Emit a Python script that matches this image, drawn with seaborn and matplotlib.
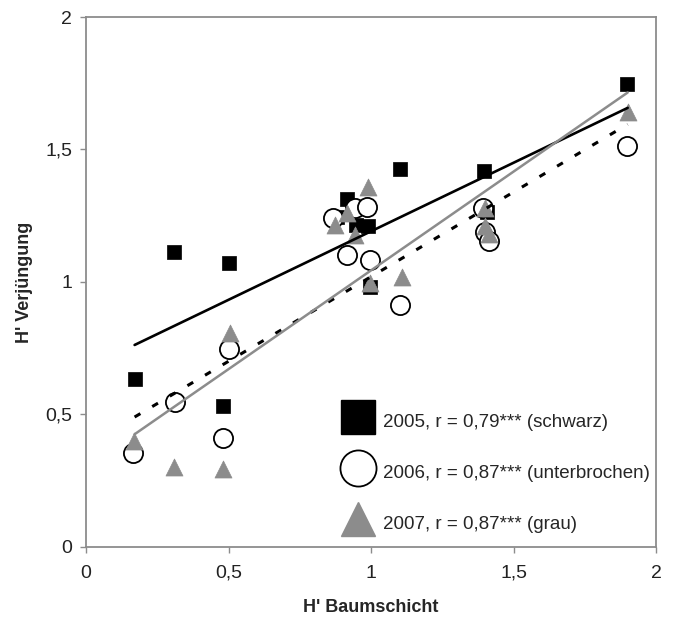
import matplotlib
matplotlib.use("Agg")
import matplotlib.pyplot as plt
import seaborn as sns
import pandas as pd
from matplotlib.lines import Line2D
from matplotlib.ticker import FuncFormatter

# ---- data ----
x_2005 = [0.17, 0.31, 0.48, 0.50, 0.88, 0.915, 0.947, 0.99, 0.996, 1.10, 1.396, 1.406, 1.897]
y_2005 = [0.634, 1.113, 0.532, 1.072, 1.245, 1.313, 1.215, 1.21, 0.981, 1.426, 1.419, 1.264, 1.747]

x_2006 = [0.165, 0.312, 0.48, 0.50, 0.866, 0.915, 0.943, 0.985, 0.996, 1.10, 1.393, 1.40, 1.415, 1.897]
y_2006 = [0.355, 0.547, 0.411, 0.747, 1.242, 1.102, 1.279, 1.283, 1.083, 0.913, 1.279, 1.189, 1.155, 1.513]

x_2007 = [0.168, 0.31, 0.48, 0.505, 0.873, 0.914, 0.943, 0.99, 0.996, 1.108, 1.40, 1.40, 1.415, 1.90]
y_2007 = [0.40, 0.30, 0.294, 0.807, 1.215, 1.26, 1.177, 1.358, 0.996, 1.019, 1.28, 1.21, 1.18, 1.64]

# trend lines (linear fits as drawn in the reference), start and end values
trend_x = [0.17, 1.90]
trend_2005 = [0.762, 1.657]
trend_2006 = [0.49, 1.595]
trend_2007 = [0.425, 1.715]

legend_labels = ["2005, r = 0,79*** (schwarz)",
                 "2006, r = 0,87*** (unterbrochen)",
                 "2007, r = 0,87*** (grau)"]
x_ticks = [0, 0.5, 1, 1.5, 2]
y_ticks = [0, 0.5, 1, 1.5, 2]

df05 = pd.DataFrame({"x": x_2005, "y": y_2005})
df06 = pd.DataFrame({"x": x_2006, "y": y_2006})
df07 = pd.DataFrame({"x": x_2007, "y": y_2007})

sns.set_style("white")
plt.rcParams["font.family"] = ["Liberation Sans", "DejaVu Sans"]

fig = plt.figure(figsize=(6.73, 6.3), dpi=100)
ax = fig.add_axes([0.128, 0.132, 0.847, 0.841])

GRAY = "#8c8c8c"

sns.scatterplot(data=df05, x="x", y="y", ax=ax, marker="s", s=95,
                color="black", edgecolor="black", linewidth=0.5, zorder=3)
sns.scatterplot(data=df06, x="x", y="y", ax=ax, marker="o", s=190,
                facecolor="white", edgecolor="black", linewidth=1.3, zorder=4)
sns.scatterplot(data=df07, x="x", y="y", ax=ax, marker="^", s=150,
                color=GRAY, edgecolor=GRAY, linewidth=0.5, zorder=5)

sns.lineplot(x=trend_x, y=trend_2005, ax=ax, color="black", lw=1.9, zorder=6)
sns.lineplot(x=trend_x, y=trend_2006, ax=ax, color="black", lw=2.2,
             linestyle=(0, (2.2, 4.5)), zorder=6)
sns.lineplot(x=trend_x, y=trend_2007, ax=ax, color=GRAY, lw=1.8, zorder=6)

ax.set_xlim(0, 2)
ax.set_ylim(0, 2)
ax.set_xticks(x_ticks)
ax.set_yticks(y_ticks)
fmt = FuncFormatter(lambda v, p: ("%g" % v).replace(".", ","))
ax.xaxis.set_major_formatter(fmt)
ax.yaxis.set_major_formatter(fmt)

for sp in ax.spines.values():
    sp.set_color(GRAY)
    sp.set_linewidth(1.3)
ax.tick_params(axis="both", which="major", direction="out", length=4, width=1,
               color=GRAY, labelsize=14, labelcolor="#222222", pad=6, bottom=True, left=True)
ax.tick_params(axis="x", pad=9)

ax.set_xlabel("H' Baumschicht", fontsize=13, fontweight="bold", labelpad=12)
ax.set_ylabel("H' Verjüngung", fontsize=13, fontweight="bold", labelpad=9)

handles = [
    Line2D([], [], marker="s", linestyle="none", markersize=24, color="black"),
    Line2D([], [], marker="o", linestyle="none", markersize=26, markerfacecolor="white",
           markeredgecolor="black", markeredgewidth=1.3),
    Line2D([], [], marker="^", linestyle="none", markersize=25, color=GRAY),
]
ax.legend(handles, legend_labels, loc="upper left", bbox_to_anchor=(0.444, 0.264),
          frameon=False, fontsize=13.5, handlelength=2.0, handleheight=2.0,
          labelspacing=1.17, handletextpad=0.35, borderaxespad=0, borderpad=0)

fig.savefig("out.png", dpi=100)
